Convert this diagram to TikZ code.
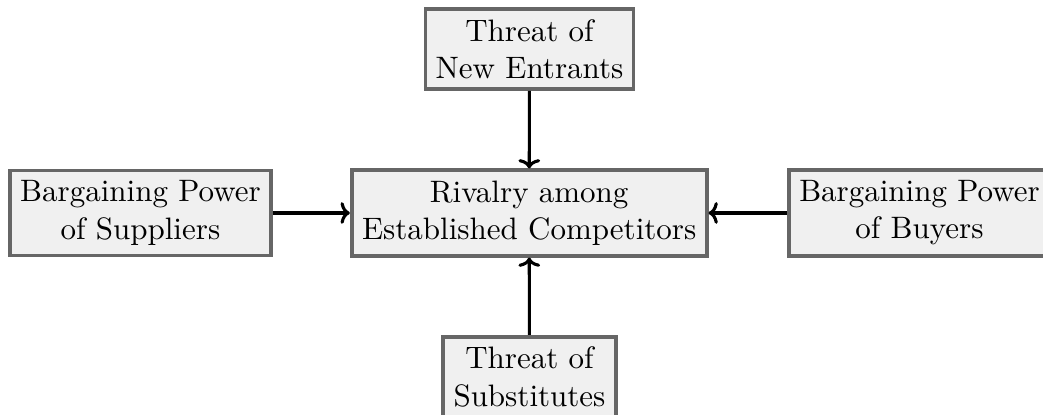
\documentclass[tikz,border=0pt]{standalone}
\usetikzlibrary{arrows.meta}
\tikzset{
  force/.style={draw=black!60, fill=black!6, line width=1.2pt, align=center, inner sep=3.33pt},
  conn/.style={-{To[length=3pt,width=7pt]}, line width=1pt, black}
}
\begin{document}
\begin{tikzpicture}[x=1pt,y=1pt]
\useasboundingbox (0,0) rectangle (336.45,-133.55);
\node[force] (center) at (170.7,-68.7) {Rivalry among\\Established Competitors};
\node[force] (top) at (170.8,-15.8) {Threat of\\New Entrants};
\node[force] (left) at (45.3,-68.7) {Bargaining Power\\of Suppliers};
\node[force] (right) at (296.6,-68.7) {Bargaining Power\\of Buyers};
\node[force] (bottom) at (170.8,-121.6) {Threat of\\Substitutes};
\draw[conn] (top) -- (center);
\draw[conn] (bottom) -- (center);
\draw[conn] (left) -- (center);
\draw[conn] (right) -- (center);
\end{tikzpicture}
\end{document}
